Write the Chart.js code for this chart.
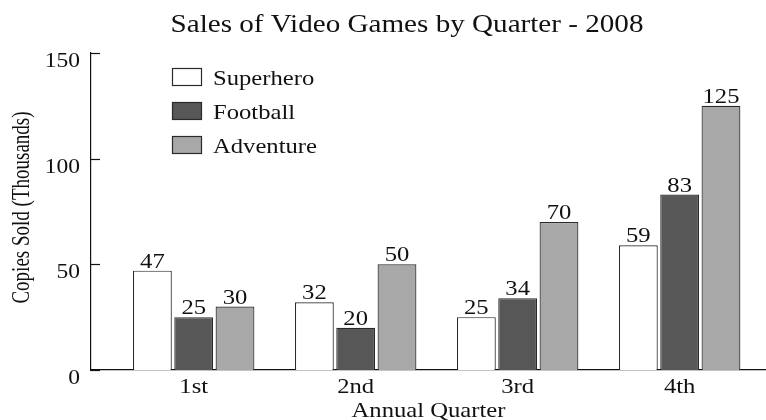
<!DOCTYPE html>
<html>
<head>
<meta charset="utf-8">
<script src="https://cdn.jsdelivr.net/npm/chart.js@4/dist/chart.umd.min.js"></script>
<style>
  html, body { margin: 0; padding: 0; background: #fff; }
  #wrap { width: 766px; height: 420px; }
</style>
</head>
<body>
<div id="wrap"><canvas id="chartVentas"></canvas></div>
<script>
const quarters = ["1st", "2nd", "3rd", "4th"];
const quarterPos = [1, 2, 3, 4];
const superhero = [47, 32, 25, 59];
const football = [25, 20, 34, 83];
const adventure = [30, 50, 70, 125];
const yTicks = [0, 50, 100, 150];

const serif = "'Liberation Serif', 'Times New Roman', serif";
const ink = "#111";
const stretch = 1.12; // the original lettering is a bit wider than Times

function toPoints(values) {
    return values.map((v, i) => ({ x: quarterPos[i], y: v }));
}

function wideText(c, text, x, y, align) {
    c.save();
    c.translate(x, y);
    c.scale(stretch, 1);
    c.textAlign = align;
    c.fillText(text, 0, 0);
    c.restore();
}

// title, legend, value labels, axis labels and inward ticks
const extras = {
    id: "extras",
    afterDraw(chart) {
        const c = chart.ctx;
        const area = chart.chartArea;
        const x = chart.scales.x;
        const y = chart.scales.y;
        c.save();
        c.fillStyle = ink;
        c.textBaseline = "alphabetic";

        c.font = "26px " + serif;
        wideText(c, "Sales of Video Games by Quarter - 2008", 407, 32, "center");

        // y axis: inward ticks, labels and title
        c.strokeStyle = ink;
        c.lineWidth = 1.2;
        c.font = "21px " + serif;
        yTicks.forEach(t => {
            const py = Math.round(y.getPixelForValue(t)) + 0.5;
            c.beginPath();
            c.moveTo(area.left, py);
            c.lineTo(area.left + 9, py);
            c.stroke();
            wideText(c, String(t), 80, py + 13, "right");
        });
        c.save();
        c.font = "19px " + serif;
        c.translate(23, (area.top + area.bottom) / 2 - 4);
        c.rotate(-Math.PI / 2);
        c.scale(1, 1.28);
        c.textAlign = "center";
        c.textBaseline = "middle";
        c.fillText("Copies Sold (Thousands)", 0, 0);
        c.restore();

        // x axis labels and title
        c.font = "22px " + serif;
        quarters.forEach((q, i) => {
            wideText(c, q, x.getPixelForValue(quarterPos[i]), 392.5, "center");
        });
        wideText(c, "Annual Quarter", (area.left + area.right) / 2, 417, "center");

        // value labels
        chart.data.datasets.forEach((ds, i) => {
            chart.getDatasetMeta(i).data.forEach((bar, j) => {
                wideText(c, String(ds.data[j].y), bar.x, bar.y - 3, "center");
            });
        });

        // legend
        chart.data.datasets.forEach((ds, i) => {
            const top = 68 + i * 34;
            c.fillStyle = ds.backgroundColor;
            c.fillRect(172, top, 30, 18);
            c.strokeStyle = ds.borderColor;
            c.lineWidth = 1.2;
            c.strokeRect(172.5, top + 0.5, 29, 17);
            c.fillStyle = ink;
            wideText(c, ds.label, 213, top + 17, "left");
        });

        c.restore();
    }
};

new Chart(document.getElementById("chartVentas"), {
    type: "bar",
    data: {
        datasets: [
            { label: "Superhero", data: toPoints(superhero), backgroundColor: "#ffffff" },
            { label: "Football", data: toPoints(football), backgroundColor: "#575757" },
            { label: "Adventure", data: toPoints(adventure), backgroundColor: "#a8a8a8" }
        ].map(d => Object.assign(d, {
            borderColor: "#2a2a2a",
            borderWidth: 1.2,
            categoryPercentage: 0.765,
            barPercentage: 0.94
        }))
    },
    options: {
        responsive: true,
        maintainAspectRatio: false,
        animation: false,
        layout: { padding: { top: 53, right: 0, bottom: 0, left: 0 } },
        plugins: {
            legend: { display: false },
            tooltip: { enabled: false }
        },
        scales: {
            x: {
                type: "linear",
                offset: false,
                min: 0.366,
                max: 4.533,
                afterBuildTicks: scale => {
                    scale.ticks = quarterPos.map(v => ({ value: v }));
                },
                afterFit: scale => { scale.height = 50; },
                ticks: { display: false },
                grid: { display: false, drawTicks: false },
                border: { display: true, color: ink, width: 1.2 }
            },
            y: {
                min: 0,
                max: 150,
                afterBuildTicks: scale => {
                    scale.ticks = yTicks.map(v => ({ value: v }));
                },
                afterFit: scale => { scale.width = 91; },
                ticks: { display: false },
                grid: { display: false, drawTicks: false },
                border: { display: true, color: ink, width: 1.2 }
            }
        }
    },
    plugins: [extras]
});
</script>
</body>
</html>
